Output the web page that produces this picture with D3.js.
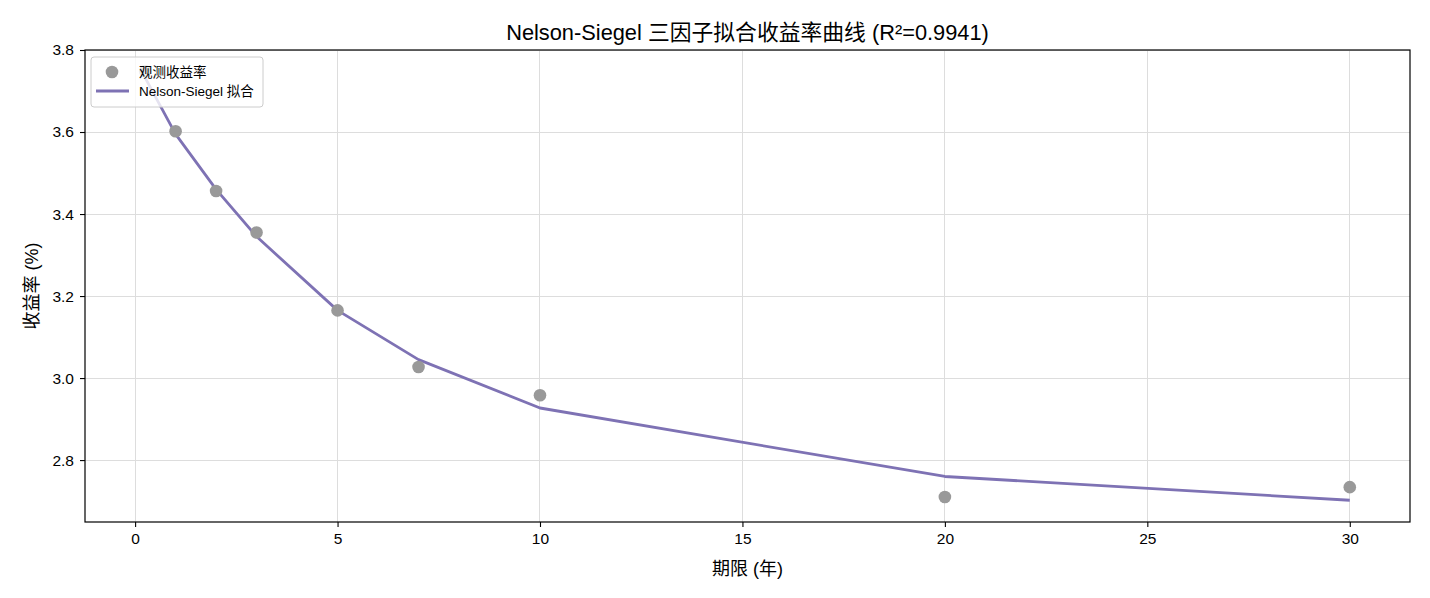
<!DOCTYPE html>
<html>
<head>
<meta charset="utf-8">
<script src="https://d3js.org/d3.v7.min.js"></script>
<style>
  body { margin: 0; background: #fff; }
  text { font-family: "Liberation Sans", Arial, "Noto Sans CJK SC", sans-serif; }
  .grid line { stroke: #dddddd; stroke-width: 1; shape-rendering: crispEdges; }
</style>
</head>
<body>
<script>

// tenors (years) and yields (%)
var tenors = [0.25, 1, 2, 3, 5, 7, 10, 20, 30];
var observed = [3.748, 3.602, 3.456, 3.355, 3.165, 3.027, 2.958, 2.710, 2.734];
var fitted = [3.732, 3.595, 3.460, 3.345, 3.165, 3.045, 2.927, 2.760, 2.702];
var xTicks = [0, 5, 10, 15, 20, 25, 30];
var yTicks = [2.8, 3.0, 3.2, 3.4, 3.6, 3.8];

var W = 1430, H = 598;
var margin = {left: 85, right: 20, top: 50, bottom: 76};
var width = W - margin.left - margin.right;
var height = H - margin.top - margin.bottom;

var svg = d3.select("body").append("svg")
    .attr("width", W)
    .attr("height", H);

var x = d3.scaleLinear().domain([-1.2375, 31.4875]).range([0, width]);
var y = d3.scaleLinear().domain([2.649, 3.8]).range([height, 0]);

var g = svg.append("g")
    .attr("transform", "translate(" + margin.left + "," + margin.top + ")");

// grid
g.append("g").attr("class", "grid")
  .selectAll("line").data(xTicks).enter().append("line")
    .attr("x1", d => x(d)).attr("x2", d => x(d))
    .attr("y1", 0).attr("y2", height);
g.append("g").attr("class", "grid")
  .selectAll("line").data(yTicks).enter().append("line")
    .attr("x1", 0).attr("x2", width)
    .attr("y1", d => y(d)).attr("y2", d => y(d));

// fitted line
var line = d3.line()
    .x(function(d, i) { return x(tenors[i]); })
    .y(function(d) { return y(d); });

g.append("path")
    .datum(fitted)
    .attr("d", line)
    .attr("fill", "none")
    .attr("stroke", "#7e72b4")
    .attr("stroke-width", 2.8)
    .attr("stroke-linejoin", "round");

// observed points
g.selectAll("circle.obs").data(observed).enter().append("circle")
    .attr("class", "obs")
    .attr("cx", (d, i) => x(tenors[i]))
    .attr("cy", d => y(d))
    .attr("r", 6.3)
    .attr("fill", "#999999");

// axes
var xAxis = g.append("g")
    .attr("transform", "translate(0," + height + ")")
    .call(d3.axisBottom(x).tickValues(xTicks).tickSize(5).tickPadding(6).tickFormat(d3.format("d")));
var yAxis = g.append("g")
    .call(d3.axisLeft(y).tickValues(yTicks).tickSize(5).tickPadding(6).tickFormat(d3.format(".1f")));

[xAxis, yAxis].forEach(function(a) {
  a.select(".domain").remove();
  a.selectAll("text").style("font-size", "15.5px").attr("fill", "#000");
  a.selectAll("line").attr("stroke", "#000").attr("stroke-width", 1.1);
});

// frame
g.append("rect")
    .attr("x", 0).attr("y", 0)
    .attr("width", width).attr("height", height)
    .attr("fill", "none")
    .attr("stroke", "#000")
    .attr("stroke-width", 1.2);

// title + labels
svg.append("text")
    .attr("x", margin.left + width / 2)
    .attr("y", 40)
    .attr("text-anchor", "middle")
    .style("font-size", "21.8px")
    .text("Nelson-Siegel 三因子拟合收益率曲线 (R²=0.9941)");

svg.append("text")
    .attr("x", margin.left + width / 2)
    .attr("y", 575)
    .attr("text-anchor", "middle")
    .style("font-size", "18px")
    .text("期限 (年)");

svg.append("text")
    .attr("transform", "translate(38," + (margin.top + height / 2) + ") rotate(-90)")
    .attr("text-anchor", "middle")
    .style("font-size", "18px")
    .text("收益率 (%)");

// legend
var lg = g.append("g").attr("transform", "translate(6,7)");
lg.append("rect")
    .attr("width", 172).attr("height", 50)
    .attr("rx", 3)
    .attr("fill", "#fff").attr("fill-opacity", 0.8)
    .attr("stroke", "#cccccc");
lg.append("circle")
    .attr("cx", 21).attr("cy", 15)
    .attr("r", 6.3).attr("fill", "#999999");
lg.append("line")
    .attr("x1", 5).attr("x2", 38)
    .attr("y1", 34).attr("y2", 34)
    .attr("stroke", "#7e72b4").attr("stroke-width", 2.8);
lg.append("text")
    .attr("x", 48).attr("y", 20)
    .style("font-size", "13.5px")
    .text("观测收益率");
lg.append("text")
    .attr("x", 48).attr("y", 39)
    .style("font-size", "13.5px")
    .text("Nelson-Siegel 拟合");

</script>
</body>
</html>
